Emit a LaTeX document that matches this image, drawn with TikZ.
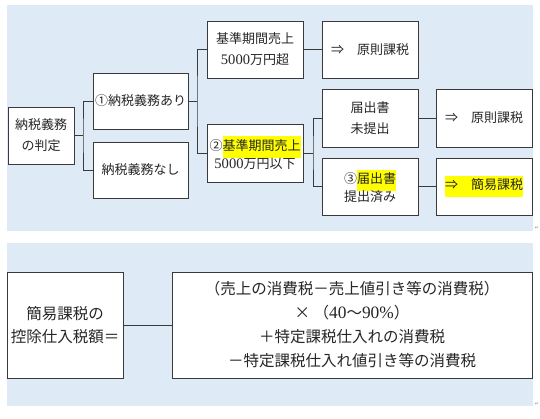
\documentclass[tikz,border=0pt]{standalone}
\usepackage{fontspec}
\setmainfont{Noto Sans CJK JP}
\newfontfamily\lat[Scale=1.12]{Liberation Serif}
\newfontfamily\sym{DejaVu Sans}
\definecolor{panel}{HTML}{DEEAF6}
\definecolor{edge}{HTML}{3A3A3A}
\definecolor{hlyellow}{HTML}{FFFF00}
\newcommand{\hlt}[1]{{\setlength{\fboxsep}{0pt}\colorbox{hlyellow}{\vrule width 0pt height 1.08em depth 0.58em #1}}}
\tikzset{
  box/.style={draw=edge, line width=0.9pt, fill=white, rectangle, inner sep=1pt, align=center,
    font=\fontsize{13}{21}\selectfont, text=black!85},
  bigbox/.style={box, font=\fontsize{15.5}{22.5}\selectfont},
  conn/.style={draw=edge, line width=0.9pt}
}
\begin{document}
\begin{tikzpicture}[x=1pt,y=-1pt]
\useasboundingbox (0,0) rectangle (540,418);
\fill[white] (0,0) rectangle (540,418);
% panels
\fill[panel] (7,5) rectangle (533,231);
\fill[panel] (7,243) rectangle (533,406);
% top boxes
\node[box, minimum width=66pt, minimum height=57pt] (judge) at (41,135.5) {納税義務\\の判定};
\node[box, minimum width=95pt, minimum height=56pt] (ari) at (140.5,101) {①納税義務あり};
\node[box, minimum width=95pt, minimum height=56pt] (nashi) at (140.5,170) {納税義務なし};
\node[box, minimum width=96pt, minimum height=57pt] (over) at (255,49.5) {基準期間売上\\{\lat 5000}万円超};
\node[box, minimum width=96pt, minimum height=58pt] (under) at (255,153) {②\hlt{基準期間売上}\\[-3pt]{\lat 5000}万円以下};
\node[box, minimum width=96pt, minimum height=57pt] (gen1) at (370,49.5) {⇒　原則課税};
\node[box, minimum width=96pt, minimum height=58pt] (mitei) at (370,118) {届出書\\未提出};
\node[box, minimum width=96pt, minimum height=57pt] (sumi) at (370,186.5) {③\hlt{届出書}\\[-3pt]提出済み};
\node[box, minimum width=96pt, minimum height=58pt] (gen2) at (484,118) {⇒　原則課税};
\node[box, minimum width=96pt, minimum height=57pt] (kan) at (484,186.5) {\hlt{⇒　簡易課税}};
% branch points
\coordinate (b1) at (83,135.5);
\coordinate (b2) at (197,101);
\coordinate (b3) at (313,153);
\draw[conn] (judge.east) -- (b1);
\draw[conn] (ari.west) -| (b1) |- (nashi.west);
\draw[conn] (ari.east) -- (b2);
\draw[conn] (over.west) -| (b2) |- (under.west);
\draw[conn] (under.east) -- (b3);
\draw[conn] (mitei.west) -| (b3) |- (sumi.west);
\draw[conn] (over.east) -- (gen1.west);
\draw[conn] (mitei.east) -- (gen2.west);
\draw[conn] (sumi.east) -- (kan.west);
% bottom
\node[bigbox, minimum width=116pt, minimum height=106pt] (left) at (65,325) {簡易課税の\\控除仕入税額＝};
\node[bigbox, minimum width=360pt, minimum height=106pt, font=\fontsize{15.5}{24}\selectfont] (formula) at (352,325)
  {（売上の消費税－売上値引き等の消費税）\\×\ （{\lat 40}～{\lat 90\%}）\\＋特定課税仕入れの消費税\\－特定課税仕入れ値引き等の消費税};
\draw[conn] (left.east) -- (formula.west);
% paragraph marks
\node[text=black!45, font=\sym\fontsize{5}{6}\selectfont, inner sep=0pt] (pm1) at (537,228) {↵};
\node[text=black!45, font=\sym\fontsize{5}{6}\selectfont, inner sep=0pt] (pm2) at (537,404) {↵};
\end{tikzpicture}
\end{document}
